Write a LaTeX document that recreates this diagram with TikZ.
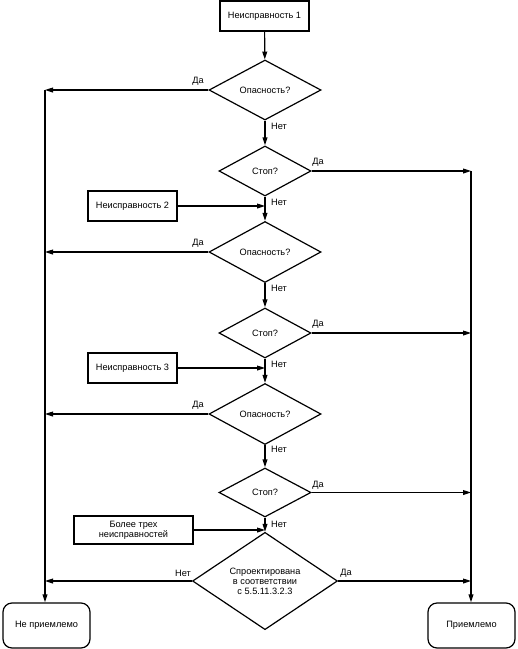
\documentclass[tikz,border=0pt]{standalone}
\usepackage{fontspec}
\setmainfont{Liberation Sans}
\usetikzlibrary{shapes.geometric,arrows.meta}
\begin{document}
\begin{tikzpicture}[x=1pt,y=-1pt,
  every node/.style={font=\fontsize{9.2}{10}\selectfont},
  box/.style={draw,line width=1.2pt,inner sep=0pt,align=center},
  rbox/.style={draw,line width=1.2pt,inner sep=0pt,rounded corners=9pt,minimum width=87pt,minimum height=45pt},
  dia/.style={draw,diamond,line width=1.2pt,inner sep=0pt,align=center},
  lbl/.style={inner sep=0pt},
  arr/.style={line width=1.2pt,-{Triangle[length=8pt,width=4.8pt]}}]
\useasboundingbox (0,0) rectangle (518,649);
% nodes
\node[box,minimum width=89pt,minimum height=30pt] (f1) at (264.5,16) {Неисправность 1};
\node[dia,minimum width=112pt,minimum height=60pt] (d1) at (265,90) {Опасность?};
\node[dia,minimum width=92pt,minimum height=50pt] (d2) at (265,171) {Стоп?};
\node[box,minimum width=89pt,minimum height=30pt] (f2) at (132.5,206) {Неисправность 2};
\node[dia,minimum width=112pt,minimum height=61pt] (d3) at (265,252) {Опасность?};
\node[dia,minimum width=92pt,minimum height=50pt] (d4) at (265,333) {Стоп?};
\node[box,minimum width=89pt,minimum height=30pt] (f3) at (132.5,368) {Неисправность 3};
\node[dia,minimum width=112pt,minimum height=61pt] (d5) at (265,414) {Опасность?};
\node[dia,minimum width=92pt,minimum height=49pt] (d6) at (265,492.5) {Стоп?};
\node[box,minimum width=119pt,minimum height=28pt] (f4) at (133.5,530) {Более трех\\неисправностей};
\node[dia,minimum width=145pt,minimum height=74pt] (d7) at (265,581) {Спроектирована\\в соответствии\\с 5.5.11.3.2.3};
\node[rbox] (r1) at (46.5,625.5) {Не приемлемо};
\node[rbox] (r2) at (471.5,625.5) {Приемлемо};
% junction coordinates
\coordinate (L1) at (45,90);
\coordinate (L3) at (45,252);
\coordinate (L5) at (45,414);
\coordinate (L7) at (45,581);
\coordinate (R2) at (471,171);
\coordinate (R4) at (471,333);
\coordinate (R6) at (471,492.5);
\coordinate (R7) at (471,581);
\coordinate (J2) at (265,206);
\coordinate (J3) at (265,368);
\coordinate (J4) at (265,530);
% main vertical flow
\draw[arr] (f1) -- (d1);
\draw[arr] (d1) -- (d2);
\draw[arr] (d2) -- (d3);
\draw[arr] (d3) -- (d4);
\draw[arr] (d4) -- (d5);
\draw[arr] (d5) -- (d6);
\draw[arr] (d6) -- (d7);
% side inputs
\draw[arr] (f2) -- (J2);
\draw[arr] (f3) -- (J3);
\draw[arr] (f4) -- (J4);
% yes/no branches
\draw[arr] (d1.west) -- (L1);
\draw[arr] (d3.west) -- (L3);
\draw[arr] (d5.west) -- (L5);
\draw[arr] (d7.west) -- (L7);
\draw[arr] (d2.east) -- (R2);
\draw[arr] (d4.east) -- (R4);
\draw[arr] (d6.east) -- (R6);
\draw[arr] (d7.east) -- (R7);
% collector lines
\draw[arr] (L1) -- (L1 |- r1.north);
\draw[arr] (R2) -- (R2 |- r2.north);
% labels
\node[lbl] (a1) at (198,81) {Да};
\node[lbl] (n1) at (279,126) {Нет};
\node[lbl] (a2) at (318,162) {Да};
\node[lbl] (n2) at (279,202) {Нет};
\node[lbl] (a3) at (198,243) {Да};
\node[lbl] (n3) at (279,288) {Нет};
\node[lbl] (a4) at (318,324) {Да};
\node[lbl] (n4) at (279,364) {Нет};
\node[lbl] (a5) at (198,405) {Да};
\node[lbl] (n5) at (279,449) {Нет};
\node[lbl] (a6) at (318,485) {Да};
\node[lbl] (n6) at (279,524) {Нет};
\node[lbl] (n7) at (183,573) {Нет};
\node[lbl] (a7) at (346,573) {Да};
\end{tikzpicture}
\end{document}
